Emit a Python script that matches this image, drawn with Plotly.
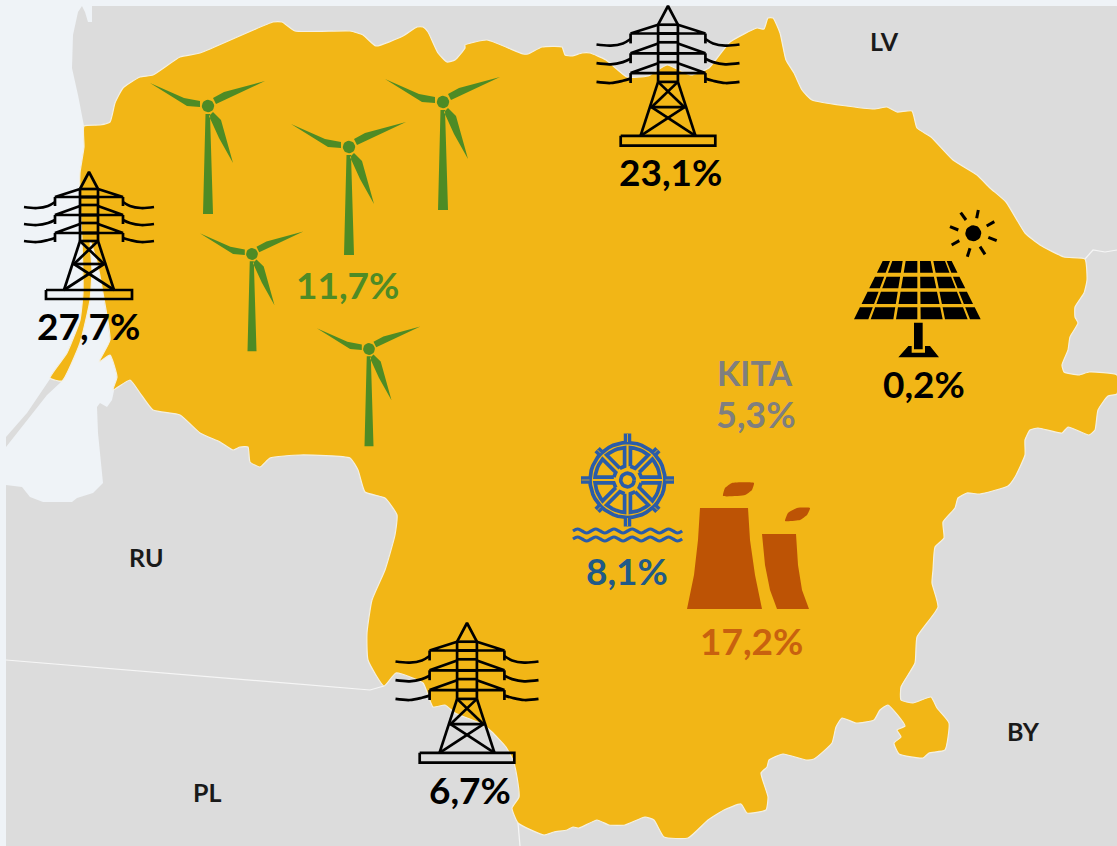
import math
import plotly.graph_objects as go

# ---------- colours ----------
WATER = "#eff3f7"
LAND = "#dcdcdc"
YELLOW = "#f2b616"
GREEN = "#4e8b25"
BLUE = "#2a5ca8"
ORANGE = "#bd5305"

# ---------- map outlines (picture coordinates) ----------
lithuania = [
    (84,126),(100,125),(110,122),(115,103),(123,88),(140,77),(153,75),(180,57),(200,53),(273,22),(282,22),
    (295,31),(350,31),(363,35),(376,46),(403,36),(417,27),(423,27),(428,32),(438,53),(447,62),(455,60),
    (465,48),(465,45),(487,40),(523,54),(528,54),(542,47),(562,47),(565,55),(572,56),(582,53),(590,53),
    (606,60),(627,77),(648,76),(667,65),(691,75),(709,68),(730,42),(757,28),(764,29),(768,18),(773,18),
    (780,33),(786,60),(794,73),(802,90),(812,100),(874,109),(887,107),(897,112),(912,111),(917,128),
    (931,137),(953,160),(977,175),(990,188),(1006,202),(1025,233),(1040,245),(1064,257),(1085,259),
    (1087,280),(1084,293),(1075,307),(1075,317),(1078,323),(1070,337),(1068,350),(1062,365),(1064,372),
    (1079,375),(1089,372),(1117,375),(1117,394),(1108,396),(1098,410),(1095,430),(1089,435),(1068,427),
    (1062,433),(1038,428),(1030,430),(1025,440),(1025,455),(1015,477),(1008,486),(980,494),(967,493),
    (958,498),(955,508),(943,522),(944,538),(935,547),(933,570),(932,583),(938,607),(917,637),(915,663),
    (901,687),(901,700),(913,703),(931,697),(937,708),(949,723),(945,750),(929,753),(923,758),(899,754),
    (894,743),(901,737),(897,730),(905,726),(888,705),(880,710),(874,720),(856,723),(842,718),(836,727),
    (832,743),(814,759),(806,760),(783,754),(769,760),(767,767),(761,773),(768,797),(766,810),(747,813),
    (741,804),(724,810),(708,820),(688,838),(664,837),(654,820),(645,817),(625,825),(609,825),(597,820),
    (579,828),(573,827),(567,830),(554,832),(544,835),(518,823),(512,808),(519,797),(517,777),(513,760),
    (506,747),(492,732),(482,724),(455,713),(445,705),(433,707),(423,683),(396,673),(384,686),(368,660),
    (367,633),(372,600),(385,570),(395,535),(397,515),(385,498),(365,492),(358,470),(350,458),(300,455),
    (270,458),(260,467),(250,462),(248,447),(240,447),(233,450),(220,442),(200,433),(180,415),(153,410),
    (140,393),(130,380),(113,390),(117,377),(110,355),(99,362),(110,340),(103,293),(97,262),(90,240),
    (92,270),(90,300),(80,343),(62,381),(50,378),(67,353),(80,320),(83,293),(82,240),(80,200),(80,173),(84,147),
]
water = [
    (0,0),(1117,0),(1117,6),(92,6),(92,22),(88,22),(85,12),(82,6),(78,12),(73,35),(72,68),(78,95),(84,126),
    (86,200),(95,240),(110,340),(117,377),(112,400),(107,407),(100,403),(97,407),(98,433),(103,483),(93,493),
    (77,498),(72,502),(43,502),(30,497),(22,487),(6,485),(6,846),(0,846),
]
spit_south = [(50,379),(61,382),(47,395),(33,413),(6,447),(6,437),(27,413)]
border_lines = [
    [(6,660),(370,690),(384,686)],
    [(518,823),(520,846)],
    [(1085,259),(1093,250),(1105,252),(1117,250)],
]

# ---------- texts ----------
share_labels = ["27,7%", "11,7%", "23,1%", "0,2%", "KITA", "5,3%", "8,1%", "17,2%", "6,7%"]
share_pos = [(88,325),(347,284),(670,171),(924,383),(754,372.5),(756,413.5),(627,570),(751,640),(470,789)]
share_sizes = [37, 37, 37, 37, 34, 36, 37, 37, 37]
share_colors = ["#000000", GREEN, "#000000", "#000000", "#7f7f7f", "#7f7f7f", "#215a87", "#c8610f", "#000000"]
country_labels = ["LV", "RU", "PL", "BY"]
country_pos = [(884,41),(146,557),(207,792),(1023,731)]

# ---------- icon placement ----------
towers = [(89,172,1.0),(668,6,1.1),(467,623,1.1)]
turbines = [(208,106,1.0),(349,147,1.0),(443,102,1.0),(252,254,0.9),(369,349,0.9)]
cooling_big = [(700,508),(698,540),(694,575),(687,609),(762,609),(755,575),(750,540),(748,508)]
cooling_small = [(762,534),(765,565),(770,590),(777,609),(809,609),(802,590),(798,565),(796,534)]
smoke_big = [(723,496),(725,488),(732,483),(754,483),(752,490),(745,495)]
smoke_small = [(785,521),(788,513),(797,508),(810,508),(807,515),(800,520)]
panel_top = [(128,150),(157,188),(197,232),(240,272),(280,315),(320,335)]
panel_bottom = [(42,85),(92,160),(168,232),(242,308),(315,383),(390,422)]
panel_rows = [(183,218),(230,265),(275,312),(322,358)]
panel_stand = [(175,472),(205,438),(215,438),(215,458),(255,458),(255,438),(270,438),(297,472)]
sun_rays = [((415,30),(410,55)),((463,65),(440,78)),((470,122),(445,112)),((435,163),(420,140)),
            ((382,170),(390,145)),((335,135),(358,122)),((330,80),(355,90)),((362,38),(378,60))]
wave_levels = [531, 539]
wave_offsets = [0,-2,0,2,0,-2,0,2,0,-2,0,2,0,-2,0,2,0,-2,0,2,0,-2,0,2,0]

fig = go.Figure()

def fill(points, color, line=None, width=0, shape="linear", smoothing=0.4):
    xs, ys = [], []
    groups = points if isinstance(points[0], list) else [points]
    for g in groups:
        xs += [p[0] for p in g] + [g[0][0], None]
        ys += [p[1] for p in g] + [g[0][1], None]
    fig.add_trace(go.Scatter(x=xs[:-1], y=ys[:-1], mode="lines", fill="toself", fillcolor=color,
                             line=dict(color=line or color, width=width, shape=shape, smoothing=smoothing),
                             hoverinfo="skip", showlegend=False))

def stroke(segments, color, width, shape="linear"):
    xs, ys = [], []
    for s in segments:
        xs += [p[0] for p in s] + [None]
        ys += [p[1] for p in s] + [None]
    fig.add_trace(go.Scatter(x=xs[:-1], y=ys[:-1], mode="lines",
                             line=dict(color=color, width=width, shape=shape, smoothing=1.0),
                             hoverinfo="skip", showlegend=False))

def circle(cx, cy, r, n=48):
    return [(cx + r*math.cos(2*math.pi*i/n), cy + r*math.sin(2*math.pi*i/n)) for i in range(n+1)]

# ---------- map ----------
fig.add_trace(go.Scatter(x=[0,1117,1117,0,0], y=[0,0,846,846,0], mode="lines", fill="toself", fillcolor=LAND,
                         line=dict(width=0), hoverinfo="skip", showlegend=False))
fill(water, WATER)
fill(spit_south, LAND)
stroke(border_lines, "#f6f6f6", 1.2)
fill(lithuania, YELLOW, line="#f4f0e2", width=1.2, shape="spline", smoothing=0.45)

# ---------- turbines ----------
blade_l = [(-58,-23),(-24,-8),(-8,-5),(-8,1),(-21,0)]
blade_r = [(57,-25),(16,-14),(5,-8),(8,-2)]
blade_d = [(25,57),(13,14),(5,6),(1,10),(11,32)]
mast = [(-2.5,8),(2,8),(5,108),(-5,108)]
tur = []
for hx, hy, s in turbines:
    for part in (blade_l, blade_r, blade_d, mast):
        tur.append([(hx + s*p[0], hy + s*p[1]) for p in part])
    tur.append(circle(hx, hy, 6.2*(s**0.5), 24))
fill(tur, GREEN)

# ---------- pylons ----------
def tower(cx, top, s):
    segs, wires = [], []
    def P(x, y):
        return (cx + s*x, top + s*y)
    segs.append([P(-9,17), P(0,0), P(9,17)])
    segs.append([P(-9,17), P(-9,69)])
    segs.append([P(9,17), P(9,69)])
    for y in [17,25,33,43,51,61,69]:
        segs.append([P(-9,y), P(9,y)])
    for y0, y1, wy in [(17,25,35),(34,43,52),(52,61,69)]:
        for sg in (-1, 1):
            segs.append([P(sg*9,y0), P(sg*34,y1), P(-sg*9,y1)])
            segs.append([P(sg*34,y1), P(sg*34,y1+9)])
            wires.append([P(sg*34,y1+5), P(sg*41,wy-1), P(sg*52,wy+1), P(sg*65,wy)])
    segs.append([P(-9,69), P(-25,118)])
    segs.append([P(9,69), P(25,118)])
    segs.append([P(-9,69), P(15,92)])
    segs.append([P(9,69), P(-15,92)])
    segs.append([P(-16,92), P(16,92)])
    segs.append([P(-15,92), P(25,118)])
    segs.append([P(15,92), P(-25,118)])
    segs.append([P(-43,118), P(43,118), P(43,127), P(-43,127), P(-43,118)])
    return segs, wires

pyl, wir = [], []
for t in towers:
    a, b = tower(*t)
    pyl += a
    wir += b
stroke(pyl, "#000000", 2.7)
stroke(wir, "#000000", 2.7, shape="spline")

# ---------- solar ----------
def S(p):
    return (840 + p[0]/3, 200 + p[1]/3)

cells = []
y_a, y_b = panel_rows[0][0], panel_rows[-1][1]
for (t_l, t_r), (b_l, b_r) in zip(panel_top, panel_bottom):
    for r0, r1 in panel_rows:
        f0 = (r0 - y_a)/(y_b - y_a)
        f1 = (r1 - y_a)/(y_b - y_a)
        cells.append([S((t_l+(b_l-t_l)*f0, r0)), S((t_r+(b_r-t_r)*f0, r0)),
                      S((t_r+(b_r-t_r)*f1, r1)), S((t_l+(b_l-t_l)*f1, r1))])
cells.append([S(p) for p in [(222,368),(248,368),(248,448),(222,448)]])
cells.append([S(p) for p in panel_stand])
cells.append(circle(973.3, 233.3, 8, 24))
fill(cells, "#000000")
stroke([[S(a), S(b)] for a, b in sun_rays], "#000000", 3)

# ---------- helm ----------
cx, cy = 627.5, 480
def polar(r, deg):
    a = math.radians(deg)
    return (cx + r*math.cos(a), cy + r*math.sin(a))

helm = [circle(cx, cy, 37.5), circle(cx, cy, 6.8, 24)]
off = 2.9
for k in range(8):
    a0, a1 = k*45, (k+1)*45
    d_in = math.degrees(math.asin(off/14))
    d_out = math.degrees(math.asin(off/32.5))
    wedge = [polar(14, a0 + d_in)]
    steps = 6
    for i in range(steps+1):
        wedge.append(polar(32.5, a0 + d_out + (a1 - a0 - 2*d_out)*i/steps))
    wedge.append(polar(14, a1 - d_in))
    wedge.append(wedge[0])
    helm.append(wedge)
handles = []
for k in range(8):
    a = k*45
    handles.append([polar(37, a), polar(46.5 if k % 2 == 0 else 43, a)])
stroke(handles, BLUE, 7.5)
stroke(helm, BLUE, 3.7)
stroke([[polar(38, k*45), polar(46 if k % 2 == 0 else 42.5, k*45)] for k in range(8)], YELLOW, 0.8)

waves = []
for y in wave_levels:
    waves.append([(573 + 4.55*i, y + o) for i, o in enumerate(wave_offsets)])
stroke(waves, BLUE, 3.2, shape="spline")

# ---------- cooling towers ----------
fill([cooling_big, cooling_small], ORANGE)
fill([smoke_big, smoke_small], ORANGE, shape="spline", smoothing=0.4)

# ---------- text ----------
for t, (x, y), c, sz in zip(share_labels, share_pos, share_colors, share_sizes):
    fig.add_annotation(x=x, y=y, xref="x", yref="y", text=t, showarrow=False,
                       font=dict(family="Lato", size=sz, color=c, weight=700))
for t, (x, y) in zip(country_labels, country_pos):
    fig.add_annotation(x=x, y=y, xref="x", yref="y", text=t, showarrow=False,
                       font=dict(family="Lato", size=25, color="#1a1a1a", weight=700))

fig.update_layout(width=1117, height=846, margin=dict(l=0, r=0, t=0, b=0),
                  paper_bgcolor=WATER, plot_bgcolor=WATER,
                  xaxis=dict(range=[0,1117], visible=False, fixedrange=True),
                  yaxis=dict(range=[846,0], visible=False, fixedrange=True),
                  showlegend=False)
fig.write_html("out.html", config=dict(displayModeBar=False),
               post_script="document.body.style.margin='0';document.body.style.overflow='hidden';")
